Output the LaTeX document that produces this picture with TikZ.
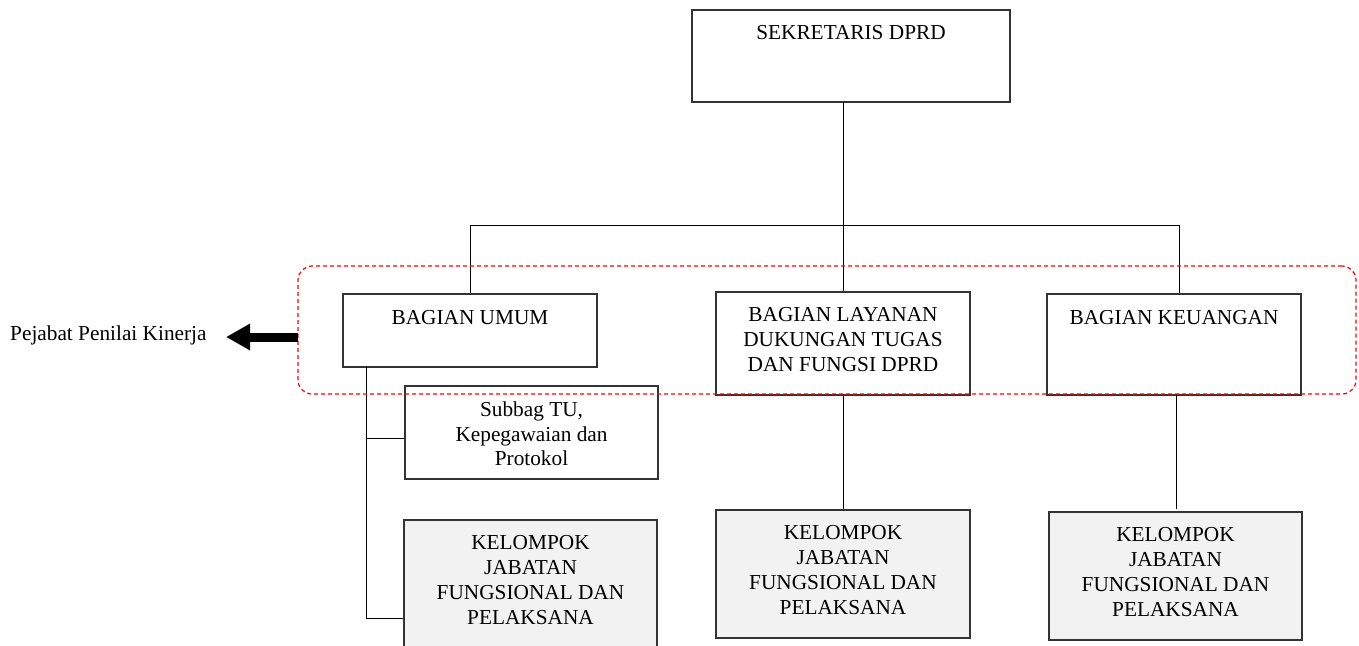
\documentclass[tikz,border=0pt]{standalone}
\usepackage{fontspec}
\setmainfont{Liberation Serif}
\usetikzlibrary{arrows.meta}
\begin{document}
\begin{tikzpicture}[x=1pt,y=-1pt,
  orgbox/.style={draw=black!80, line width=1.2pt, inner sep=0pt, fill=white},
  grey/.style={orgbox, fill=black!5},
  lbl/.style={font=\fontsize{21.3}{24.8}\selectfont, align=center, inner sep=0pt, anchor=north},
  conn/.style={draw=black, line width=0.9pt},
  grp/.style={draw=red, line width=1.2pt, dash pattern=on 4pt off 3pt, rounded corners=14pt, inner sep=0pt}]
\useasboundingbox (0,0) rectangle (1359,645);
% boxes
\node[orgbox, minimum width=318pt, minimum height=92pt] (sek) at (851,56) {};
\node[orgbox, minimum width=254pt, minimum height=73pt] (umum) at (470,330.5) {};
\node[orgbox, minimum width=254pt, minimum height=103pt] (lay) at (843,343.5) {};
\node[orgbox, minimum width=254pt, minimum height=101pt] (keu) at (1174,344.5) {};
\node[orgbox, minimum width=253pt, minimum height=93pt] (sub) at (531.5,432.5) {};
\node[grey, minimum width=253pt, minimum height=140pt] (kel1) at (530.5,590) {};
\node[grey, minimum width=254pt, minimum height=128pt] (kel2) at (843,574) {};
\node[grey, minimum width=253pt, minimum height=128pt] (kel3) at (1175.5,576) {};
% texts
\node[lbl] (tsek) at ([yshift=-16pt]sek.north) {SEKRETARIS DPRD};
\node[lbl] (tumum) at ([yshift=-17pt]umum.north) {BAGIAN UMUM};
\node[lbl] (tlay) at ([yshift=-16pt]lay.north) {BAGIAN LAYANAN\\DUKUNGAN TUGAS\\DAN FUNGSI DPRD};
\node[lbl] (tkeu) at ([yshift=-17pt]keu.north) {BAGIAN KEUANGAN};
\node[lbl] (tsub) at ([yshift=-16pt]sub.north) {Subbag TU,\\Kepegawaian dan\\Protokol};
\node[lbl] (tkel1) at ([yshift=-16pt]kel1.north) {KELOMPOK\\JABATAN\\FUNGSIONAL DAN\\PELAKSANA};
\node[lbl] (tkel2) at ([yshift=-16pt]kel2.north) {KELOMPOK\\JABATAN\\FUNGSIONAL DAN\\PELAKSANA};
\node[lbl] (tkel3) at ([yshift=-16pt]kel3.north) {KELOMPOK\\JABATAN\\FUNGSIONAL DAN\\PELAKSANA};
\node[font=\fontsize{21.3}{24.8}\selectfont, inner sep=0pt, anchor=base west] (pej) at (10,340) {Pejabat Penilai Kinerja};
% connectors
\coordinate (top) at (843,102);
\coordinate (barL) at (470,225);
\coordinate (barM) at (843,225);
\coordinate (barR) at (1179,225);
\draw[conn] (top) -- (barM);
\draw[conn] (barL) -- (barR);
\draw[conn] (barL) -- (umum.north);
\draw[conn] (barM) -- (lay.north);
\draw[conn] (barR) -- (barR |- keu.north);
\coordinate (uDown) at (366,367);
\coordinate (uSub) at (366,438);
\coordinate (uKel) at (366,618);
\draw[conn] (uDown) -- (uKel) -- (uKel -| kel1.west);
\draw[conn] (uSub) -- (uSub -| sub.west);
\draw[conn] (lay.south) -- (kel2.north);
\coordinate (kTop) at (1176,395);
\coordinate (kBot) at (1176,509);
\draw[conn] (kTop) -- (kBot);
% group frame (drawn on top)
\node[grp, minimum width=1058pt, minimum height=128pt] (grp) at (827,330) {};
% arrow
\coordinate (arS) at (298,337);
\coordinate (arE) at (226,337);
\draw[line width=9pt, -{Triangle[length=24pt,width=25pt]}] (arS) -- (arE);
\end{tikzpicture}
\end{document}
